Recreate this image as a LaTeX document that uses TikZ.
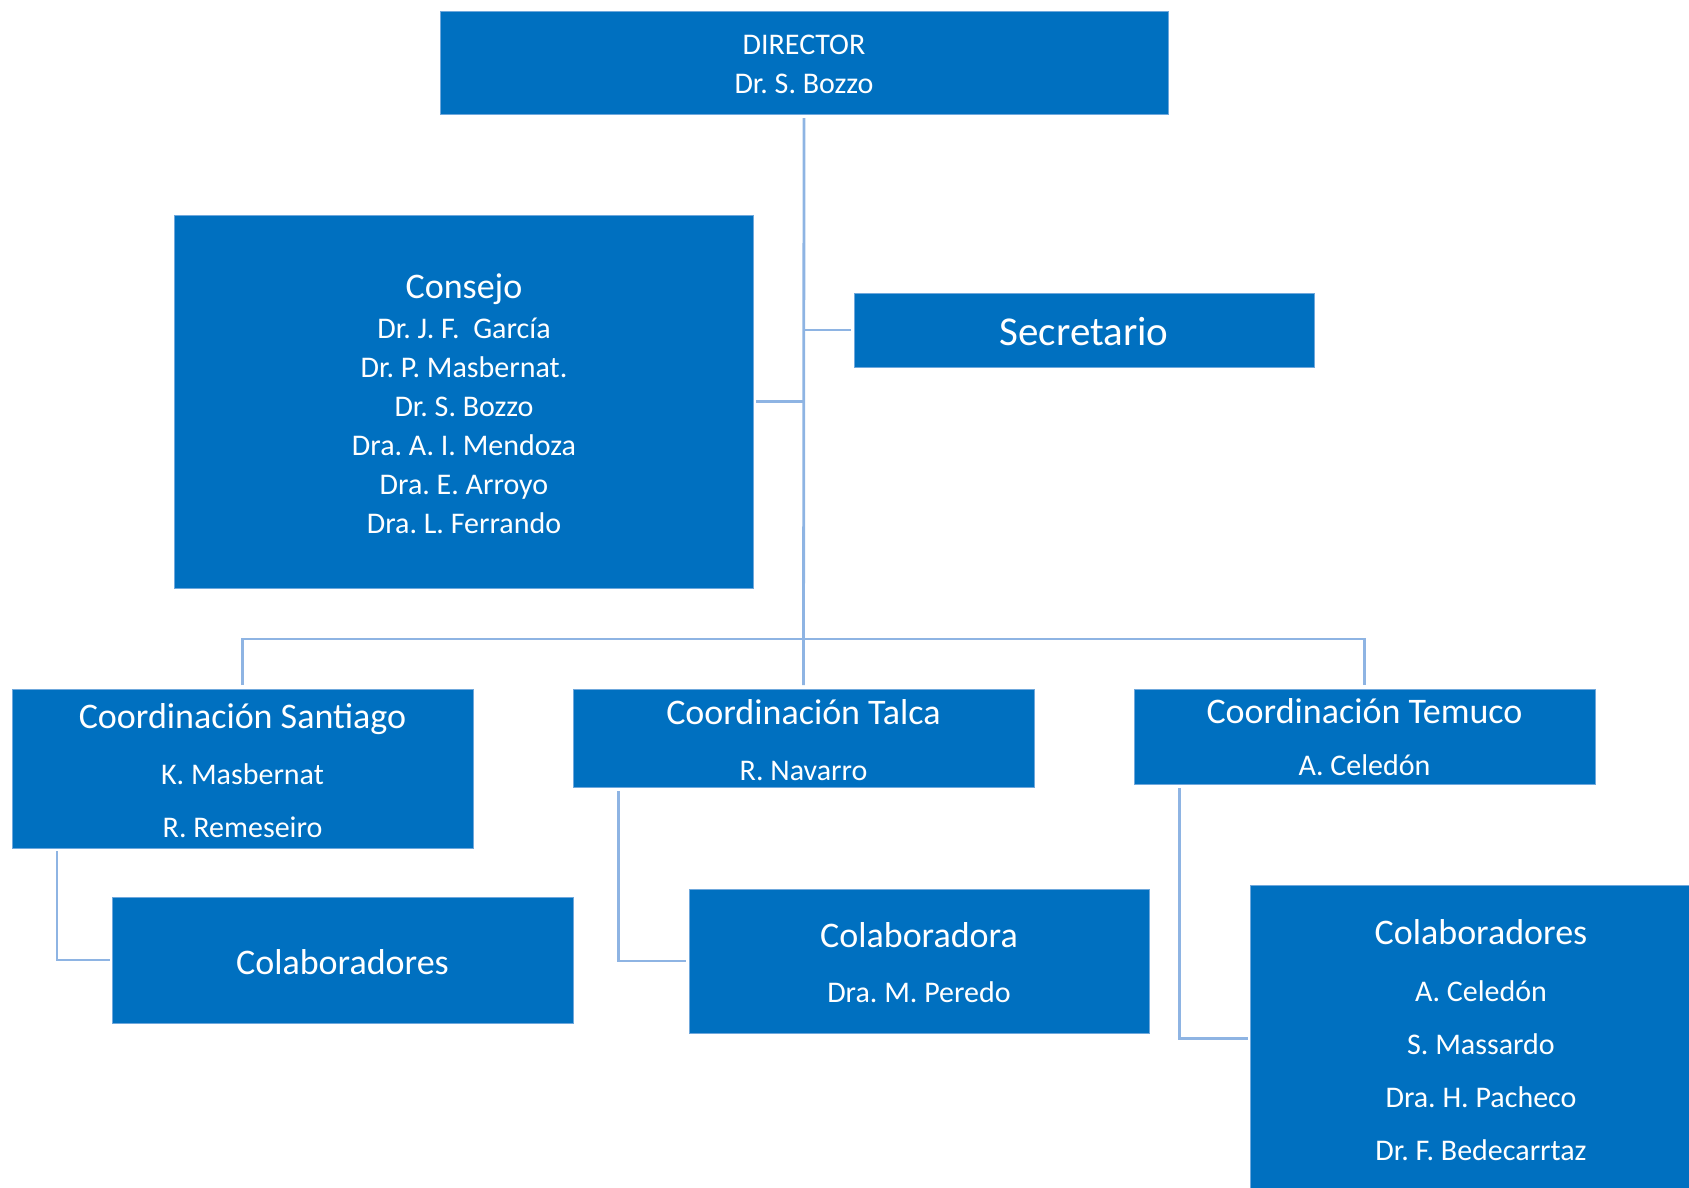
\documentclass[tikz,border=0pt]{standalone}
\usepackage{fontspec}
\setmainfont{Carlito}
\usetikzlibrary{calc}
\definecolor{boxblue}{HTML}{0070C0}
\definecolor{boxedge}{HTML}{6FA8DC}
\definecolor{linkblue}{HTML}{8EB4E3}
\frenchspacing
\begin{document}
\frenchspacing
\begin{tikzpicture}[x=1pt,y=-1pt,
  box/.style={draw=boxedge, line width=0.8pt, fill=boxblue, inner sep=0pt, outer sep=0pt, anchor=north west},
  link/.style={draw=linkblue, line width=2.8pt},
  bigtxt/.style={text=white, font=\fontsize{36}{43}\selectfont, anchor=base, inner sep=0pt},
  smalltxt/.style={text=white, font=\fontsize{30}{36}\selectfont, anchor=base, inner sep=0pt},
  hugetxt/.style={text=white, font=\fontsize{41}{49}\selectfont, anchor=base, inner sep=0pt}
]
\useasboundingbox (0,0) rectangle (1689,1187);

% boxes
\node[box, minimum width=728pt, minimum height=103pt] (dir) at (440,11) {};
\node[box, minimum width=578.5pt, minimum height=372.7pt] (cons) at (174.5,215.4) {};
\node[box, minimum width=460pt, minimum height=74pt] (sec) at (854,293) {};
\node[box, minimum width=461pt, minimum height=159pt] (sant) at (12,689) {};
\node[box, minimum width=461pt, minimum height=98pt] (talca) at (573,689) {};
\node[box, minimum width=461pt, minimum height=95pt] (temuco) at (1134,689) {};
\node[box, minimum width=461pt, minimum height=126pt] (colS) at (112,897) {};
\node[box, minimum width=460pt, minimum height=144pt] (colT) at (689,889) {};
\node[box, minimum width=440pt, minimum height=303pt] (colM) at (1250.5,885.5) {};

% connectors
\draw[link] ([yshift=-4pt]dir.south) -- ([yshift=4pt]talca.north);
\draw[link] ([yshift=4pt]sant.north) -- ++(0,-46) -| ([yshift=4pt]temuco.north);
\draw[link] ([xshift=3pt]cons.east) -- (cons.east -| dir.south);
\draw[link] (sec.west -| dir.south) -- ([xshift=-3pt]sec.west);
\draw[link] ([xshift=45pt,yshift=-3pt]sant.south west) |- ([xshift=-2pt]colS.west);
\draw[link] ([xshift=45.3pt,yshift=-4pt]talca.south west) |- ([xshift=-3pt]colT.west);
\draw[link] ([xshift=45.5pt,yshift=-4pt]temuco.south west) |- ([xshift=-3pt,yshift=-153pt]colM.north west);

% texts
\node[smalltxt] (dirA) at (804,54) {DIRECTOR};
\node[smalltxt] (dirB) at (804,93) {Dr. S. Bozzo};

\node[bigtxt] (consT) at (464,298) {Consejo};
\foreach \t [count=\i] in {Dr. J. F.\ \ García, Dr. P. Masbernat., Dr. S. Bozzo, Dra. A. I. Mendoza, Dra. E. Arroyo, Dra. L. Ferrando}
  \node[smalltxt] (cons\i) at (464,299+39*\i) {\t};

\node[hugetxt] (secT) at (1084,345) {Secretario};

\node[bigtxt] (santT) at (242.5,728) {Coordinación Santiago};
\node[smalltxt] (santA) at (242.5,784) {K. Masbernat};
\node[smalltxt] (santB) at (242.5,837) {R. Remeseiro};

\node[bigtxt] (talcaT) at (803.5,724) {Coordinación Talca};
\node[smalltxt] (talcaA) at (803.5,780) {R. Navarro};

\node[bigtxt] (temT) at (1364.5,723) {Coordinación Temuco};
\node[smalltxt] (temA) at (1364.5,775) {A. Celedón};

\node[bigtxt] (colST) at (342.5,974) {Colaboradores};

\node[bigtxt] (colTT) at (919,947) {Colaboradora};
\node[smalltxt] (colTA) at (919,1002) {Dra. M. Peredo};

\node[bigtxt] (colMT) at (1481,944) {Colaboradores};
\foreach \t [count=\i] in {A. Celedón, S. Massardo, Dra. H. Pacheco, Dr. F. Bedecarrtaz}
  \node[smalltxt] (colM\i) at (1481,948+53*\i) {\t};
\end{tikzpicture}
\end{document}
